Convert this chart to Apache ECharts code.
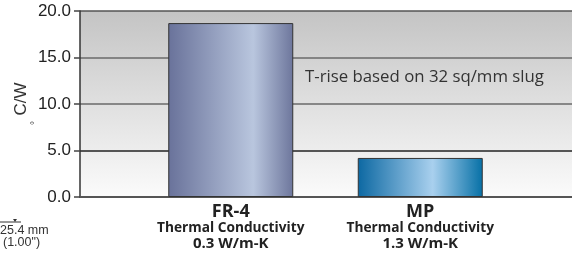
<!DOCTYPE html>
<html><head><meta charset="utf-8">
<style>html,body{margin:0;padding:0;background:#fff}#c{width:572px;height:261px}</style>
<script src="https://cdn.jsdelivr.net/npm/echarts@6/dist/echarts.min.js"></script>
</head><body><div id="c"></div>
<script>
const categories = ['FR-4', 'MP'];
const conductivity = ['0.3 W/m-K', '1.3 W/m-K'];
const values = [18.7, 4.2];
const yTicks = [0, 5, 10, 15, 20];

const chart = echarts.init(document.getElementById('c'), null, {renderer: 'canvas'});
const G = echarts.graphic.LinearGradient;
const barColors = [
  new G(0, 0, 1, 0, [{offset: 0, color: '#69729a'}, {offset: 0.68, color: '#b9c6de'}, {offset: 1, color: '#6d769c'}]),
  new G(0, 0, 1, 0, [{offset: 0, color: '#0c68a2'}, {offset: 0.6, color: '#a9d0ee'}, {offset: 1, color: '#0670a6'}])
];
chart.setOption({
  animation: false,
  grid: [
    {left: 80, right: 0, top: 11, bottom: 64, show: true, borderWidth: 0,
     backgroundColor: new G(0, 0, 0, 1, [{offset: 0, color: '#c4c4c4'}, {offset: 1, color: '#fbfbfb'}])},
    {left: 136, right: 57, top: 11, bottom: 64}
  ],
  xAxis: [
    {gridIndex: 0, type: 'value', min: 0, max: 1, axisLabel: {show: false}, axisTick: {show: false},
     splitLine: {show: false}, axisLine: {show: true, lineStyle: {color: '#555', width: 2}}},
    {gridIndex: 1, type: 'category', data: categories, axisLine: {show: false}, axisTick: {show: false},
     axisLabel: {margin: 5, interval: 0,
       formatter: (v, i) => '{a|' + v + '}\n{b|Thermal Conductivity}\n{c|' + conductivity[i] + '}',
       rich: {
         a: {fontFamily: 'Open Sans', fontWeight: 'bold', fontSize: 18, lineHeight: 19, color: '#222'},
         b: {fontFamily: 'Open Sans', fontWeight: 'bold', fontSize: 13.7, lineHeight: 15, color: '#222'},
         c: {fontFamily: 'Open Sans', fontWeight: 'bold', fontSize: 15, lineHeight: 16, color: '#222'}
       }}}
  ],
  yAxis: [
    {gridIndex: 0, type: 'value', min: 0, max: 20, interval: 5,
     axisLine: {show: true, lineStyle: {color: '#333', width: 1.5}},
     axisTick: {show: true, length: 6, lineStyle: {color: '#444', width: 1.5}},
     axisLabel: {margin: 9, fontFamily: 'Liberation Sans', fontSize: 17, color: '#222', formatter: v => v.toFixed(1)},
     splitLine: {show: true, lineStyle: {color: ['#555', '#222', '#6a6a6a', '#6a6a6a', '#555'], width: 1.5}}},
    {gridIndex: 1, type: 'value', min: 0, max: 20, show: false}
  ],
  series: [{
    type: 'bar', xAxisIndex: 1, yAxisIndex: 1, barWidth: 125,
    data: values.map((v, i) => ({value: v, itemStyle: {color: barColors[i], borderColor: '#333', borderWidth: 1}}))
  }],
  graphic: [
    {type: 'text', left: 305, top: 69, style: {text: 'T-rise based on 32 sq/mm slug', font: '16.8px "Open Sans"', fill: '#333'}},
    {type: 'text', x: 13, y: 99, rotation: Math.PI / 2, style: {text: 'C/W', font: '17px "Liberation Sans"', fill: '#333', textAlign: 'center', textVerticalAlign: 'top'}},
    {type: 'text', x: 30, y: 123, rotation: Math.PI / 2, style: {text: '°', font: '10px "Liberation Sans"', fill: '#444', textAlign: 'center', textVerticalAlign: 'top'}},
    {type: 'line', shape: {x1: 0, y1: 222, x2: 21, y2: 222}, style: {stroke: '#333', lineWidth: 1}},
    {type: 'polygon', shape: {points: [[13, 219], [17, 219], [15, 222]]}, style: {fill: '#333'}},
    {type: 'text', left: 0, top: 224, style: {text: '25.4 mm', font: '12.5px "Liberation Sans Narrow", "Liberation Sans"', fill: '#333'}},
    {type: 'text', left: 3, top: 236, style: {text: '(1.00")', font: '12.5px "Liberation Sans Narrow", "Liberation Sans"', fill: '#333'}}
  ]
});
</script></body></html>
